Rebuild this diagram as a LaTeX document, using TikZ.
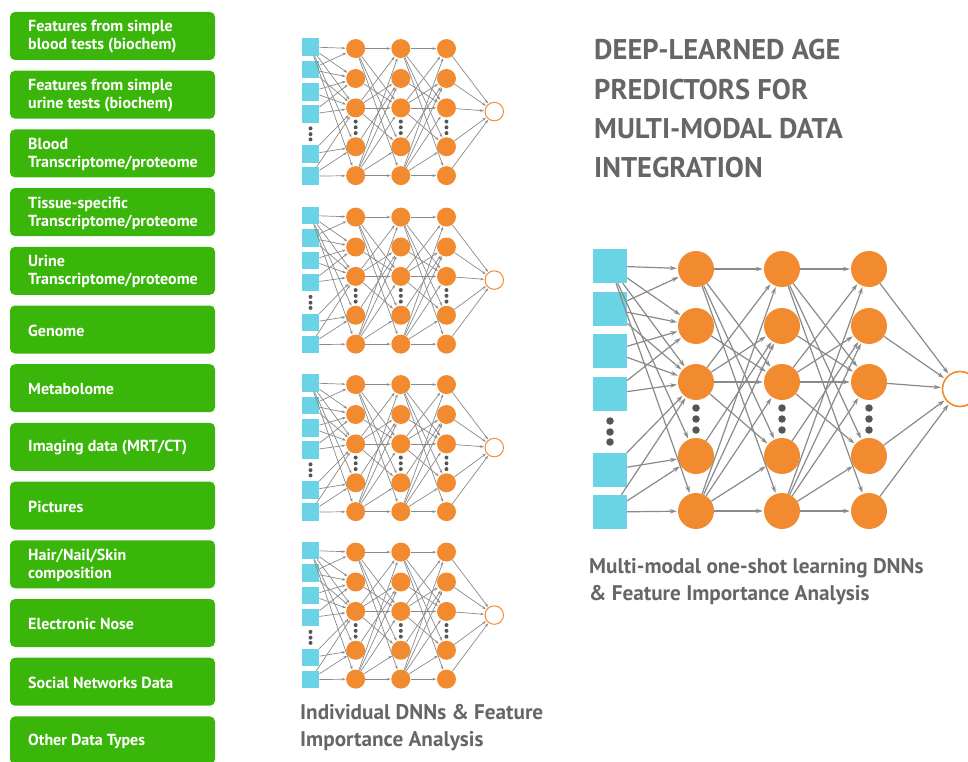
\documentclass[tikz,border=0pt]{standalone}
\usepackage{fontspec}
\setmainfont{PT Sans}
\usetikzlibrary{arrows.meta}
\definecolor{boxgreen}{HTML}{3AB50A}
\definecolor{inpcyan}{HTML}{6AD3E6}
\definecolor{nodeorange}{HTML}{F28B30}
\definecolor{txtgray}{HTML}{666666}
\definecolor{linegray}{HTML}{8A8A8A}
\definecolor{dotgray}{HTML}{555555}
\tikzset{
  databox/.style={fill=boxgreen, draw=none, rounded corners=5pt},
  boxtext/.style={text=white, font=\bfseries\fontsize{16}{18}\selectfont, align=left, anchor=west, inner sep=0pt},
  inpbig/.style={fill=inpcyan, draw=none, minimum size=34pt, inner sep=0pt, rectangle},
  inpsmall/.style={fill=inpcyan, draw=none, minimum size=17.5pt, inner sep=0pt, rectangle},
  hidbig/.style={fill=nodeorange, draw=none, circle, minimum size=36pt, inner sep=0pt},
  hidsmall/.style={fill=nodeorange, draw=none, circle, minimum size=19pt, inner sep=0pt},
  outbig/.style={fill=white, draw=nodeorange, line width=1.6pt, circle, minimum size=35pt, inner sep=0pt},
  outsmall/.style={fill=white, draw=nodeorange, line width=1pt, circle, minimum size=18.5pt, inner sep=0pt},
  connbig/.style={draw=linegray, line width=1.2pt, -{Stealth[length=7pt,width=4.5pt]}, shorten >=1pt},
  connsmall/.style={draw=linegray, line width=0.7pt, -{Stealth[length=3.8pt,width=2.6pt]}, shorten >=0.5pt},
  dotbig/.style={fill=dotgray, draw=none, circle, minimum size=7.5pt, inner sep=0pt},
  dotsmall/.style={fill=dotgray, draw=none, circle, minimum size=4pt, inner sep=0pt},
  titletext/.style={text=txtgray, font=\bfseries\fontsize{28.5}{32}\selectfont, anchor=base west, inner sep=0pt},
  captext/.style={text=txtgray, font=\bfseries\fontsize{21.2}{27}\selectfont, anchor=base west, inner sep=0pt},
}
% #1 prefix, #2 x, #3 y, #4 scale, #5 big/small
\newcommand\dnnnet[5]{%
\begin{scope}[shift={(#2,#3)}]
  \foreach \k/\yy in {1/0,2/42.7,3/85.3,4/128,5/204,6/246}
    \node[inp#5] (#1i\k) at (0,\yy*#4) {};
  \foreach \yy [count=\c] in {155,166,176}
    \node[dot#5] (#1id\c) at (0,\yy*#4) {};
  \foreach \l/\xx in {1/86,2/172,3/259}{
    \foreach \k/\yy in {1/3,2/60,3/116,4/190,5/245}
      \node[hid#5] (#1h\l-\k) at (\xx*#4,\yy*#4) {};
    \foreach \yy [count=\c] in {142,153,164}
      \node[dot#5] (#1hd\l-\c) at (\xx*#4,\yy*#4) {};
  }
  \node[out#5] (#1o) at (350*#4,123*#4) {};
  \foreach \a/\b in {1/1,1/2,1/3,1/4,1/5,2/1,2/2,2/3,3/2,3/3,4/2,4/3,5/3,5/4,6/3,6/4,6/5}
    \draw[conn#5] (#1i\a) -- (#1h1-\b);
  \foreach \l/\m in {1/2,2/3}{
    \foreach \a/\b in {1/1,1/3,1/4,1/5,2/3,3/1,3/2,3/3,3/4,4/2,5/1,5/2,5/3,5/4,5/5}
      \draw[conn#5] (#1h\l-\a) -- (#1h\m-\b);
  }
  \foreach \a in {1,...,5}
    \draw[conn#5] (#1h3-\a) -- (#1o);
\end{scope}}

\begin{document}
\begin{tikzpicture}[x=1pt,y=-1pt]
\useasboundingbox (0,0) rectangle (968,762);

% data boxes
\foreach \txt [count=\i from 0] in {
  {Features from simple\\blood tests (biochem)},
  {Features from simple\\urine tests (biochem)},
  {Blood\\Transcriptome/proteome},
  {Tissue-specific\\Transcriptome/proteome},
  {Urine\\Transcriptome/proteome},
  {Genome},
  {Metabolome},
  {Imaging data (MRT/CT)},
  {Pictures},
  {Hair/Nail/Skin\\composition},
  {Electronic Nose},
  {Social Networks Data},
  {Other Data Types}}{
  \path[databox] (10,12+58.7*\i) rectangle (215,60+58.7*\i);
  \node[boxtext] (box\i) at (28,37+58.7*\i) {\txt};
}

% individual networks
\dnnnet{a}{310.5}{47}{0.525}{small}
\dnnnet{b}{310.5}{215.5}{0.525}{small}
\dnnnet{c}{310.5}{383}{0.525}{small}
\dnnnet{d}{310.5}{550.5}{0.525}{small}

% big network
\dnnnet{m}{610}{266}{1}{big}

% title
\node[titletext] (t1) at (594,60) {DEEP-LEARNED AGE};
\node[titletext] (t2) at (594,100) {PREDICTORS FOR};
\node[titletext] (t3) at (594,139) {MULTI-MODAL DATA};
\node[titletext] (t4) at (594,178) {INTEGRATION};

% captions
\node[captext] (c1) at (300,719) {Individual DNNs \& Feature};
\node[captext] (c2) at (300,746) {Importance Analysis};
\node[captext] (c3) at (589,573) {Multi-modal one-shot learning DNNs};
\node[captext] (c4) at (589,600) {\& Feature Importance Analysis};
\end{tikzpicture}
\end{document}
